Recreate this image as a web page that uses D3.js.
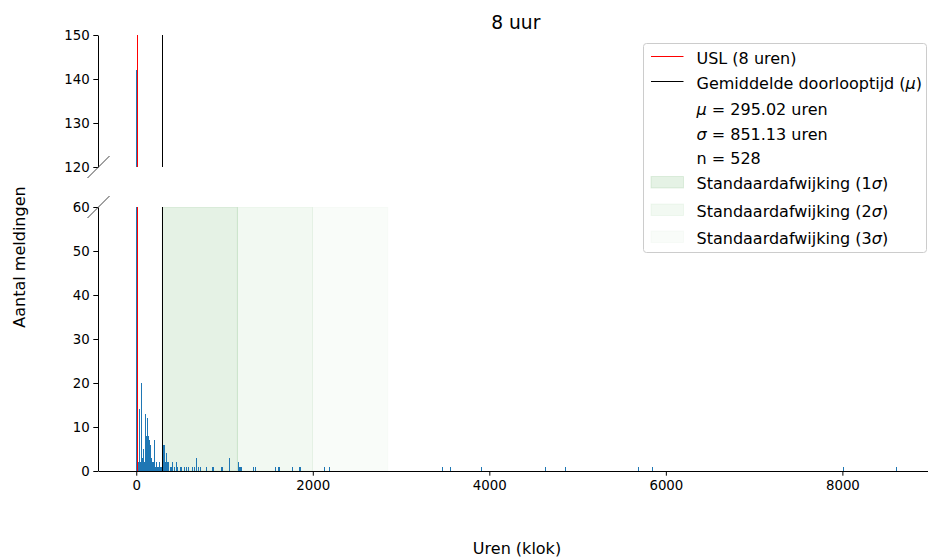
<!DOCTYPE html>
<html>
<head>
<meta charset="utf-8">
<script src="https://cdn.jsdelivr.net/npm/d3@7"></script>
<style>
  body { margin: 0; background: #fff; }
  svg text { font-family: "DejaVu Sans", sans-serif; fill: #000; }
</style>
</head>
<body>
<div id="chart"></div>
<script>
// Histogram bins: start (hours) and number of tickets in each bin
const binWidth = 11.5;
const binStarts = [
  0, 11.5, 23, 34.5, 46, 57.5, 69, 80.5, 92, 103.5, 115, 126.5, 138, 149.5,
  161, 172.5, 184, 195.5, 207, 218.5, 230, 241.5, 253, 264.5, 276, 287.5,
  299, 310.5, 322, 333.5, 345, 356.5, 379.5, 391, 402.5, 425.5, 448.5, 460,
  493, 512, 546, 568, 591, 636, 659, 682, 704, 727, 787, 855, 874, 957, 968,
  1048, 1151, 1165, 1180, 1192, 1319, 1342, 1570, 1604, 1615, 1763, 1842, 1857,
  2125, 2182, 3465, 3552, 3907, 4632, 4858, 5685, 5840, 8007, 8603
];
const binCounts = [
  142, 39, 2, 14, 2, 20, 3, 5, 2, 13, 8, 12, 8, 7,
  6, 3, 2, 7, 1, 2, 1, 1, 2, 1, 1, 2,
  6, 6, 2, 4, 2, 2, 1, 1, 2, 1, 2, 1,
  1, 1, 1, 1, 1, 1, 1, 3, 1, 1, 1, 1, 1, 1, 1,
  3, 2, 1, 1, 1, 1, 1, 1, 1, 1, 1, 1, 1,
  1, 1, 1, 1, 1, 1, 1, 1, 1, 1, 1
];

// Statistics
const usl = 8;
const mu = 295.02;
const sigma = 851.13;
const n = 528;

// Ticks
const xTicks = [0, 2000, 4000, 6000, 8000];
const yTicksTop = [120, 130, 140, 150];
const yTicksBottom = [0, 10, 20, 30, 40, 50, 60];

// Texts
const title = "8 uur";
const xLabel = "Uren (klok)";
const yLabel = "Aantal meldingen";

var width = 928, height = 558;
var barColor = "#1f77b4";

var svg = d3.select("#chart").append("svg")
    .attr("width", width)
    .attr("height", height);

// Scales
var x = d3.scaleLinear().domain([-430, 9030]).range([98.3, 933.3]);
var yTop = d3.scaleLinear().domain([120, 150]).range([167, 35]);
var yBot = d3.scaleLinear().domain([0, 60]).range([471, 207]);
var left = Math.floor(x.range()[0]);

// snap a vertical 1px line to the pixel grid
var crisp = v => Math.round(v) + 0.5;

var bins = binStarts.map((s, i) => ({x0: s, x1: s + binWidth, count: binCounts[i]}));

// Clip paths for the two panels
var defs = svg.append("defs");
defs.append("clipPath").attr("id", "clipTop").append("rect")
    .attr("x", left).attr("y", yTop.range()[1])
    .attr("width", x.range()[1] - left)
    .attr("height", yTop.range()[0] - yTop.range()[1]);
defs.append("clipPath").attr("id", "clipBot").append("rect")
    .attr("x", left).attr("y", yBot.range()[1])
    .attr("width", x.range()[1] - left)
    .attr("height", yBot.range()[0] - yBot.range()[1]);

var topPanel = svg.append("g").attr("clip-path", "url(#clipTop)");
var botPanel = svg.append("g").attr("clip-path", "url(#clipBot)");

// Standard deviation bands (bottom panel only)
var bandOpacity = [0.1, 0.05, 0.025];
botPanel.selectAll(".band")
    .data([0, 1, 2])
    .enter().append("rect")
    .attr("class", "band")
    .attr("x", k => x(mu + k * sigma))
    .attr("width", k => x(mu + (k + 1) * sigma) - x(mu + k * sigma))
    .attr("y", yBot(60))
    .attr("height", yBot(0) - yBot(60))
    .attr("fill", "green")
    .attr("fill-opacity", k => bandOpacity[k])
    .attr("stroke", "green")
    .attr("stroke-opacity", k => bandOpacity[k]);

// Bars
function drawBars(g, y, yMin){
  g.selectAll(".bar")
      .data(bins.filter(d => d.count > yMin))
      .enter().append("rect")
      .attr("class", "bar")
      .attr("x", d => x(d.x0))
      .attr("width", d => x(d.x1) - x(d.x0))
      .attr("y", d => y(d.count))
      .attr("height", d => y(yMin) - y(d.count))
      .attr("fill", barColor)
      .attr("shape-rendering", "crispEdges");
}
drawBars(topPanel, yTop, 120);
drawBars(botPanel, yBot, 0);

// USL and mean lines in both panels
[[topPanel, yTop], [botPanel, yBot]].forEach(p => {
  var g = p[0], y = p[1];
  g.append("line")
      .attr("x1", crisp(x(usl))).attr("x2", crisp(x(usl)))
      .attr("y1", y.range()[0]).attr("y2", y.range()[1])
      .attr("stroke", "red").attr("stroke-width", 1);
  g.append("line")
      .attr("x1", crisp(x(mu))).attr("x2", crisp(x(mu)))
      .attr("y1", y.range()[0]).attr("y2", y.range()[1])
      .attr("stroke", "black").attr("stroke-width", 1);
});

// Axes
function styleAxis(g){
  g.selectAll("text").style("font-size", "13.33px").style("font-family", "DejaVu Sans");
  g.selectAll("line").attr("stroke", "#000");
  g.select(".domain").attr("stroke", "#000");
}

svg.append("g")
    .attr("transform", "translate(" + left + ",0)")
    .call(d3.axisLeft(yTop).tickValues(yTicksTop).tickSize(4.7).tickSizeOuter(0).tickPadding(3.5))
    .call(styleAxis);

svg.append("g")
    .attr("transform", "translate(" + left + ",0)")
    .call(d3.axisLeft(yBot).tickValues(yTicksBottom).tickSize(4.7).tickSizeOuter(0).tickPadding(3.5))
    .call(styleAxis);

svg.append("g")
    .attr("transform", "translate(0," + yBot.range()[0] + ")")
    .call(d3.axisBottom(x).tickValues(xTicks).tickFormat(d3.format("d")).tickSize(4.7).tickSizeOuter(0).tickPadding(4.5))
    .call(styleAxis);

// Break marks
[yTop.range()[0], yBot.range()[1]].forEach(yy => {
  svg.append("line")
      .attr("x1", left + 0.5 - 11).attr("y1", yy + 11)
      .attr("x2", left + 0.5 + 11).attr("y2", yy - 11)
      .attr("stroke", "#444").attr("stroke-width", 1);
});

// Title and labels
svg.append("text")
    .attr("x", (x.range()[0] + x.range()[1]) / 2)
    .attr("y", 29)
    .attr("text-anchor", "middle")
    .style("font-size", "18.67px")
    .text(title);

svg.append("text")
    .attr("x", 517)
    .attr("y", 554)
    .attr("text-anchor", "middle")
    .style("font-size", "16px")
    .text(xLabel);

svg.append("text")
    .attr("transform", "translate(25,257) rotate(-90)")
    .attr("text-anchor", "middle")
    .style("font-size", "16px")
    .text(yLabel);

// Legend
var legend = svg.append("g").attr("transform", "translate(643.5,43.5)");
legend.append("rect")
    .attr("width", 283)
    .attr("height", 209)
    .attr("rx", 3)
    .attr("fill", "white")
    .attr("fill-opacity", 0.8)
    .attr("stroke", "#cccccc");

var legendItems = [
  {type: "line", color: "red", parts: [["USL (8 uren)", false]], y: 20},
  {type: "line", color: "black", parts: [["Gemiddelde doorlooptijd (", false], ["\u03bc", true], [")", false]], y: 45},
  {type: "none", parts: [["\u03bc", true], [" = " + mu.toFixed(2) + " uren", false]], y: 71.5},
  {type: "none", parts: [["\u03c3", true], [" = " + sigma.toFixed(2) + " uren", false]], y: 96.5},
  {type: "none", parts: [["n = " + n, false]], y: 120.5},
  {type: "patch", k: 0, parts: [["Standaardafwijking (1", false], ["\u03c3", true], [")", false]], y: 145.5},
  {type: "patch", k: 1, parts: [["Standaardafwijking (2", false], ["\u03c3", true], [")", false]], y: 173},
  {type: "patch", k: 2, parts: [["Standaardafwijking (3", false], ["\u03c3", true], [")", false]], y: 200}
];

legendItems.forEach(item => {
  if(item.type === "line"){
    legend.append("line")
        .attr("x1", 7.5).attr("x2", 40)
        .attr("y1", item.y - 7).attr("y2", item.y - 7)
        .attr("stroke", item.color).attr("stroke-width", 1);
  } else if(item.type === "patch"){
    legend.append("rect")
        .attr("x", 7.5).attr("y", item.y - 12.5)
        .attr("width", 32.5).attr("height", 11.5)
        .attr("fill", "green")
        .attr("fill-opacity", bandOpacity[item.k])
        .attr("stroke", "green")
        .attr("stroke-opacity", bandOpacity[item.k]);
  }
  var t = legend.append("text")
      .attr("x", 53)
      .attr("y", item.y)
      .style("font-size", "16px");
  item.parts.forEach(p => {
    t.append("tspan")
        .style("font-style", p[1] ? "italic" : "normal")
        .text(p[0]);
  });
});
</script>
</body>
</html>
